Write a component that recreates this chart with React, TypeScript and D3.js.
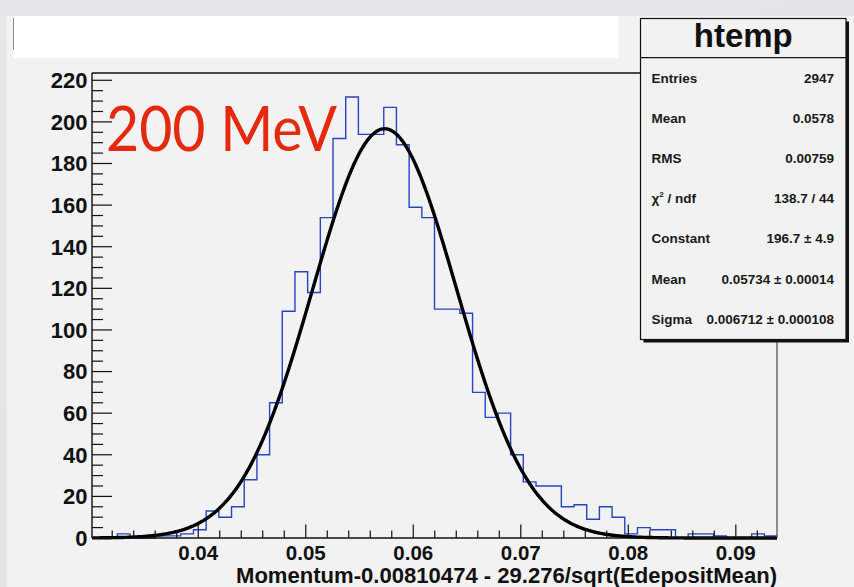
import React from "react";
import * as d3 from "d3";

// ---- data ----
const BIN_COUNTS: number[] = [
  0, 0, 2, 0, 0, 1, 1, 2, 4, 13,
  10, 15, 28, 40, 65, 109, 128, 118, 154, 192,
  212, 194, 194, 207, 189, 159, 154, 110, 110, 108,
  70, 58, 60, 40, 27, 25, 25, 15, 16, 9,
  15, 10, 2, 5, 4, 4, 0, 2, 2, 1,
  0, 0, 2, 1,
];
const X_MIN = 0.03012;
const X_MAX = 0.09383;
const Y_MAX = 223.5;
const X_TICKS = [0.04, 0.05, 0.06, 0.07, 0.08, 0.09];
const Y_TICKS = [0, 20, 40, 60, 80, 100, 120, 140, 160, 180, 200, 220];
const X_MINOR_STEP = 0.002;
const Y_MINOR_STEP = 5;

const FIT_CONSTANT = 196.7;
const FIT_MEAN = 0.05734;
const FIT_SIGMA = 0.006712;

const STAT_TITLE = "htemp";
const STAT_LABELS = ["Entries", "Mean", "RMS", "chi2", "Constant", "Mean", "Sigma"];
const STAT_VALUES = [
  "2947",
  "0.0578",
  "0.00759",
  "138.7 / 44",
  "196.7 \u00b1 4.9",
  "0.05734 \u00b1 0.00014",
  "0.006712 \u00b1 0.000108",
];
const X_TITLE = "Momentum-0.00810474 - 29.276/sqrt(EdepositMean)";
const ANNOTATION = "200 MeV";

const W = 854;
const H = 587;
const FRAME = { left: 92, right: 777, top: 73, bottom: 538 };
const FONT = "'Liberation Sans', Arial, Helvetica, sans-serif";

export default function App() {
  const x = d3.scaleLinear().domain([X_MIN, X_MAX]).range([FRAME.left, FRAME.right]);
  const y = d3.scaleLinear().domain([0, Y_MAX]).range([FRAME.bottom, FRAME.top]);

  const nb = BIN_COUNTS.length;
  const bw = (X_MAX - X_MIN) / nb;
  let histPath = "";
  BIN_COUNTS.forEach((c, i) => {
    const x0 = x(X_MIN + i * bw);
    const x1 = x(X_MIN + (i + 1) * bw);
    histPath += i === 0 ? `M${x0},${y(c)}` : `V${y(c)}`;
    histPath += `H${x1}`;
  });

  const fitXs = d3.range(0, 401).map((i) => X_MIN + ((X_MAX - X_MIN) * i) / 400);
  const fitLine = d3
    .line<number>()
    .x((d) => x(d))
    .y((d) => y(FIT_CONSTANT * Math.exp(-0.5 * ((d - FIT_MEAN) / FIT_SIGMA) ** 2)));

  const yMinor = d3.range(0, Y_MAX, Y_MINOR_STEP).filter((v) => v % 20 !== 0);
  const xMinor = d3
    .range(Math.ceil(X_MIN / X_MINOR_STEP) * X_MINOR_STEP, X_MAX, X_MINOR_STEP)
    .filter((v) => Math.abs(v / 0.01 - Math.round(v / 0.01)) > 1e-6);

  const statBox = { left: 640.5, right: 846, top: 18.5, bottom: 339.5, sep: 57.7 };
  const rowY0 = 77.7;
  const rowStep = 40.2;

  return (
    <div style={{ position: "absolute", left: 0, top: 0 }}>
      <svg width={W} height={H} style={{ display: "block" }}>
        <defs>
          <linearGradient id="bg" x1="0" y1="0" x2="1" y2="1">
            <stop offset="0" stopColor="#e4e6e9" />
            <stop offset="1" stopColor="#dfe1e4" />
          </linearGradient>
        </defs>
        <rect x={0} y={0} width={W} height={H} fill="url(#bg)" />
        {/* canvas panel */}
        <rect x={6.5} y={16} width={W - 6.5} height={H - 16} fill="#f2f2f2" />
        {/* white title band */}
        <rect x={13} y={16} width={605.5} height={42.3} fill="#ffffff" />
        <line x1={13.5} x2={13.5} y1={18} y2={50} stroke="#8a8a8a" strokeWidth={1} />

        {/* histogram */}
        <path d={histPath} fill="none" stroke="#2546c4" strokeWidth={1.4} />
        {/* fit */}
        <path d={fitLine(fitXs) || ""} fill="none" stroke="#000" strokeWidth={3.4} strokeLinejoin="round" />

        {/* frame */}
        <line x1={FRAME.left} x2={FRAME.right} y1={FRAME.top} y2={FRAME.top} stroke="#111" strokeWidth={1.3} />
        <line x1={FRAME.right} x2={FRAME.right} y1={FRAME.top} y2={FRAME.bottom} stroke="#555" strokeWidth={1.3} />

        {/* y axis */}
        <line x1={FRAME.left} x2={FRAME.left} y1={FRAME.top} y2={FRAME.bottom} stroke="#111" strokeWidth={1.4} />
        {yMinor.map((v) => (
          <line key={"ym" + v} x1={FRAME.left} x2={FRAME.left + 11} y1={y(v)} y2={y(v)} stroke="#111" strokeWidth={1.2} />
        ))}
        {Y_TICKS.map((v) => (
          <g key={"y" + v}>
            <line x1={FRAME.left} x2={FRAME.left + 20} y1={y(v)} y2={y(v)} stroke="#111" strokeWidth={1.2} />
            <text
              x={87.5}
              y={y(v)}
              dy="0.36em"
              textAnchor="end"
              fontFamily={FONT}
              fontWeight="bold"
              fontSize={22}
              fill="#111"
            >
              {v}
            </text>
          </g>
        ))}

        {/* x axis */}
        <line x1={FRAME.left} x2={FRAME.right} y1={FRAME.bottom} y2={FRAME.bottom} stroke="#111" strokeWidth={1.4} />
        {xMinor.map((v) => (
          <line key={"xm" + v} x1={x(v)} x2={x(v)} y1={FRAME.bottom} y2={FRAME.bottom - 7.5} stroke="#111" strokeWidth={1.2} />
        ))}
        {X_TICKS.map((v) => (
          <g key={"x" + v}>
            <line x1={x(v)} x2={x(v)} y1={FRAME.bottom} y2={FRAME.bottom - 13.5} stroke="#111" strokeWidth={1.2} />
            <text
              x={x(v)}
              y={559.5}
              textAnchor="middle"
              fontFamily={FONT}
              fontWeight="bold"
              fontSize={20.5}
              fill="#111"
            >
              {d3.format(".2f")(v)}
            </text>
          </g>
        ))}
        <text
          x={FRAME.right}
          y={582.5}
          textAnchor="end"
          fontFamily={FONT}
          fontWeight="bold"
          fontSize={21.5}
          fill="#111"
          textLength={541}
          lengthAdjust="spacingAndGlyphs"
        >
          {X_TITLE}
        </text>

        {/* annotation */}
        <text
          x={106}
          y={150.7}
          fontFamily="Lato, 'Open Sans', sans-serif"
          fontSize={62}
          fill="#e5290f"
          textLength={231}
          lengthAdjust="spacingAndGlyphs"
        >
          {ANNOTATION}
        </text>

        {/* stats box */}
        <rect
          x={statBox.left + 3}
          y={statBox.top + 3}
          width={statBox.right - statBox.left}
          height={statBox.bottom - statBox.top}
          fill="#111"
        />
        <rect
          x={statBox.left}
          y={statBox.top}
          width={statBox.right - statBox.left}
          height={statBox.bottom - statBox.top}
          fill="#f2f2f2"
          stroke="#111"
          strokeWidth={1.2}
        />
        <line x1={statBox.left} x2={statBox.right} y1={statBox.sep} y2={statBox.sep} stroke="#111" strokeWidth={1.2} />
        <text
          x={(statBox.left + statBox.right) / 2}
          y={46.7}
          textAnchor="middle"
          fontFamily={FONT}
          fontWeight="bold"
          fontSize={33}
          fill="#111"
        >
          {STAT_TITLE}
        </text>
        {STAT_LABELS.map((lab, i) => (
          <g key={"s" + i}>
            <text
              x={651.5}
              y={rowY0 + i * rowStep}
              dy="0.36em"
              fontFamily={FONT}
              fontWeight="bold"
              fontSize={13.5}
              fill="#1a1a1a"
            >
              {lab === "chi2" ? (
                <>
                  {"\u03c7"}
                  <tspan fontSize={8} dy={-6}>
                    2
                  </tspan>
                  <tspan dy={6}>{" / ndf"}</tspan>
                </>
              ) : (
                lab
              )}
            </text>
            <text
              x={834}
              y={rowY0 + i * rowStep}
              dy="0.36em"
              textAnchor="end"
              fontFamily={FONT}
              fontWeight="bold"
              fontSize={13.5}
              fill="#1a1a1a"
            >
              {STAT_VALUES[i]}
            </text>
          </g>
        ))}
      </svg>
    </div>
  );
}
